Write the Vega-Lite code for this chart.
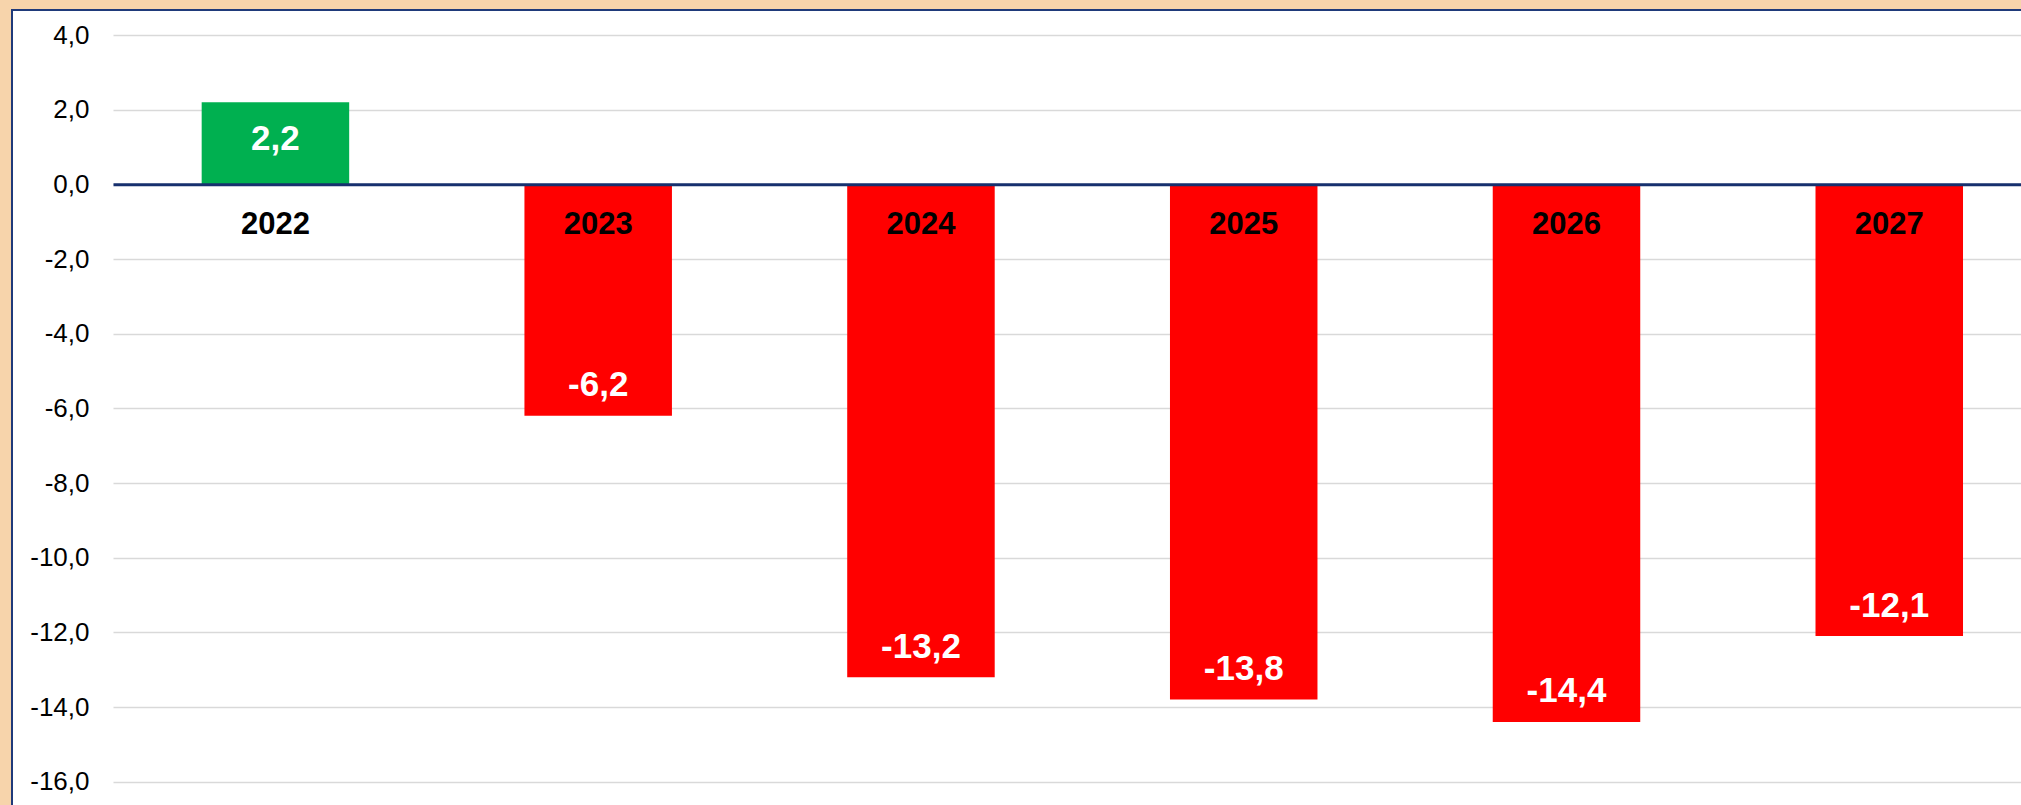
{
  "$schema": "https://vega.github.io/schema/vega-lite/v6.json",
  "width": 2009,
  "height": 795,
  "autosize": {"type": "none"},
  "padding": {"left": 12, "top": 10, "right": 0, "bottom": 0},
  "background": "#f7d4ab",
  "config": {
    "view": {"fill": "#ffffff", "stroke": "#1f3a7a", "strokeWidth": 2, "strokeDash": [2009, 2804, 795]},
    "font": "Liberation Sans"
  },
  "data": {
    "values": [
      {"year": "2022", "value": 2.2, "label": "2,2"},
      {"year": "2023", "value": -6.2, "label": "-6,2"},
      {"year": "2024", "value": -13.2, "label": "-13,2"},
      {"year": "2025", "value": -13.8, "label": "-13,8"},
      {"year": "2026", "value": -14.4, "label": "-14,4"},
      {"year": "2027", "value": -12.1, "label": "-12,1"}
    ]
  },
  "encoding": {
    "x": {
      "field": "year",
      "type": "ordinal",
      "sort": null,
      "scale": {"range": [101, 2009], "paddingInner": 0.543, "paddingOuter": 0.2272, "align": 0.6046},
      "axis": {
        "orient": "bottom",
        "offset": -620.7,
        "title": null,
        "grid": false,
        "ticks": false,
        "domain": true,
        "domainColor": "#17306e",
        "domainWidth": 3,
        "labelAngle": 0,
        "labelFont": "Liberation Sans",
        "labelFontSize": 31,
        "labelFontWeight": "bold",
        "labelColor": "#000000",
        "labelPadding": 25,
        "zindex": 1
      }
    }
  },
  "layer": [
    {
      "mark": {"type": "bar"},
      "encoding": {
        "y": {
          "field": "value",
          "type": "quantitative",
          "scale": {"domain": [-16.624, 4.67], "nice": false, "zero": false},
          "axis": {
            "orient": "left",
            "title": null,
            "values": [-16, -14, -12, -10, -8, -6, -4, -2, 0, 2, 4],
            "grid": true,
            "gridColor": "#d9d9d9",
            "gridWidth": 1.5,
            "domain": false,
            "ticks": false,
            "tickSize": 0,
            "labelPadding": -77,
            "labelAlign": "right",
            "labelFlush": false,
            "labelFont": "Liberation Sans",
            "labelFontSize": 26,
            "labelColor": "#000000",
            "labelExpr": "replace(replace(format(datum.value, '.1f'), '.', ','), '\u2212', '-')",
            "zindex": 0
          }
        },
        "y2": {"datum": 0},
        "color": {
          "condition": {"test": "datum.value > 0", "value": "#00b050"},
          "value": "#ff0000"
        }
      }
    },
    {
      "transform": [{"filter": "datum.value > 0"}],
      "mark": {"type": "text", "dy": 37, "baseline": "middle", "align": "center", "font": "Liberation Sans", "fontSize": 35, "fontWeight": "bold", "color": "#ffffff"},
      "encoding": {
        "y": {"field": "value", "type": "quantitative"},
        "text": {"field": "label"}
      }
    },
    {
      "transform": [{"filter": "datum.value < 0"}],
      "mark": {"type": "text", "dy": -30.5, "baseline": "middle", "align": "center", "font": "Liberation Sans", "fontSize": 35, "fontWeight": "bold", "color": "#ffffff"},
      "encoding": {
        "y": {"field": "value", "type": "quantitative"},
        "text": {"field": "label"}
      }
    }
  ]
}
